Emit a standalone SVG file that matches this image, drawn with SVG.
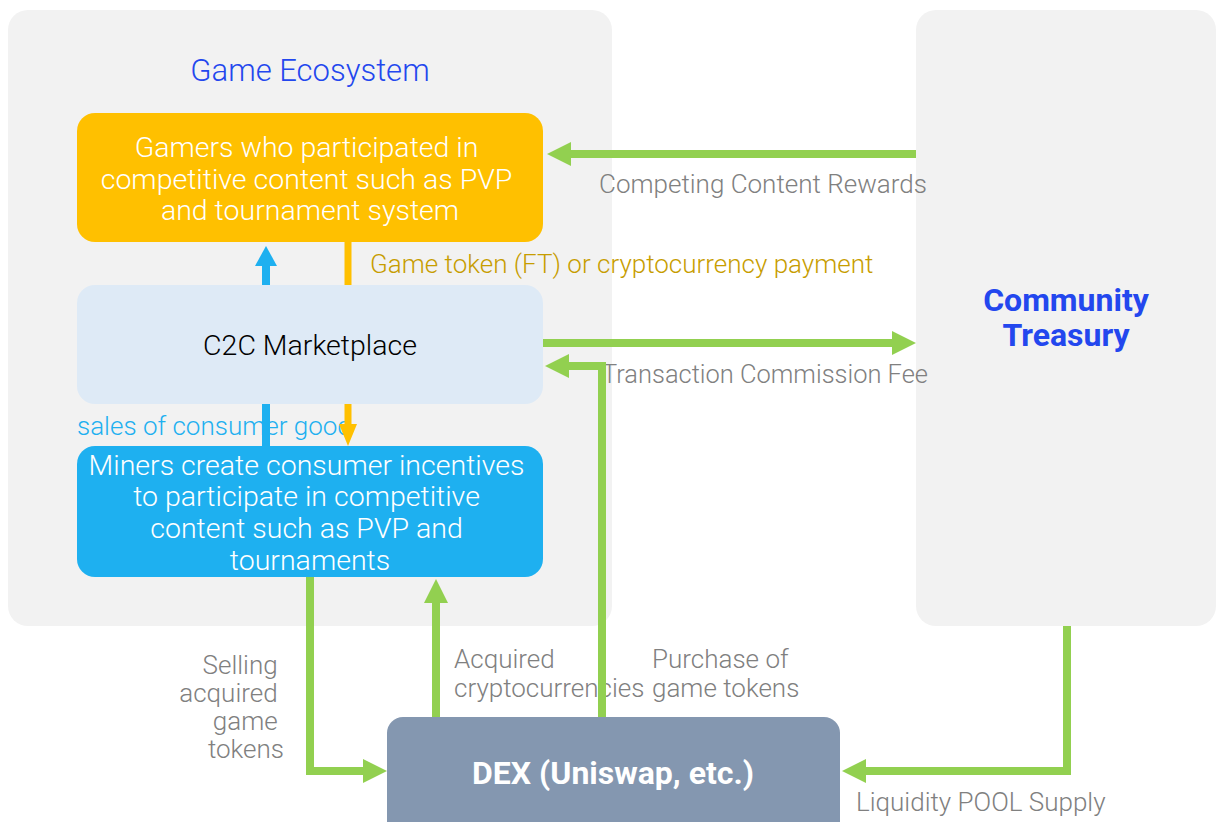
<svg xmlns="http://www.w3.org/2000/svg" width="1220" height="822" viewBox="0 0 1220 822">
  <style>
    .panel { fill: #f2f2f2; }
    .t { font-family: Roboto, "Liberation Sans", sans-serif; font-weight: 300; }
    .node-text { font-size: 28.5px; fill: #ffffff; text-anchor: middle; }
    .lbl { font-size: 26px; fill: #808080; }
    .title { font-size: 31px; fill: #2347ee; text-anchor: middle; }
    .green { fill: none; stroke: #92d050; stroke-width: 8; }
  </style>
  <defs>
    <marker id="head-green" viewBox="0 0 24 24" refX="2" refY="12" markerWidth="24" markerHeight="24" markerUnits="userSpaceOnUse" orient="auto">
      <path d="M0,0 L24,12 L0,24 Z" fill="#92d050"/>
    </marker>
    <marker id="head-blue" viewBox="0 0 20 22" refX="2" refY="11" markerWidth="20" markerHeight="22" markerUnits="userSpaceOnUse" orient="auto">
      <path d="M0,0 L20,11 L0,22 Z" fill="#1eb0f0"/>
    </marker>
    <marker id="head-orange" viewBox="0 0 22 18" refX="2" refY="9" markerWidth="22" markerHeight="18" markerUnits="userSpaceOnUse" orient="auto">
      <path d="M0,0 L22,9 L0,18 Z" fill="#ffc000"/>
    </marker>
  </defs>

  <rect width="1220" height="822" fill="#ffffff"/>

  <!-- Game Ecosystem container -->
  <g id="game-ecosystem">
    <rect class="panel" x="8" y="10" width="604" height="616" rx="20"/>
    <text class="t title" x="310" y="81">Game Ecosystem</text>
  </g>

  <g id="community-treasury">
    <rect class="panel" x="916" y="10" width="300" height="616" rx="20"/>
    <text class="t title" x="1066" y="311" style="font-size:32px;font-weight:bold">Community</text>
    <text class="t title" x="1066" y="346" style="font-size:32px;font-weight:bold">Treasury</text>
  </g>

  <!-- Edge labels -->
  <g id="labels" class="t">
    <text class="lbl" x="599" y="193">Competing Content Rewards</text>
    <text class="lbl" x="370" y="273" style="fill:#c79d00">Game token (FT) or cryptocurrency payment</text>
    <text class="lbl" x="602" y="383" textLength="326" lengthAdjust="spacingAndGlyphs">Transaction Commission Fee</text>
    <text class="lbl" x="77" y="435" style="fill:#1eb0f0">sales of consumer good</text>
    <text class="lbl" text-anchor="end">
      <tspan x="284" y="674">Selling</tspan>
      <tspan x="284" y="702">acquired</tspan>
      <tspan x="284" y="730">game</tspan>
      <tspan x="284" y="758">tokens</tspan>
    </text>
    <text class="lbl">
      <tspan x="454" y="668">Acquired</tspan>
      <tspan x="454" y="697">cryptocurrencies</tspan>
    </text>
    <text class="lbl">
      <tspan x="652" y="668">Purchase of</tspan>
      <tspan x="652" y="697">game tokens</tspan>
    </text>
    <text class="lbl" x="856" y="811">Liquidity POOL Supply</text>
  </g>

  <!-- Connectors -->
  <g id="connectors">
    <!-- rewards: treasury -> gamers -->
    <path class="green" d="M916,154 L569,154" marker-end="url(#head-green)"/>
    <!-- consumer goods: miners -> gamers -->
    <path d="M266,446 L266,264" fill="none" stroke="#1eb0f0" stroke-width="8" marker-end="url(#head-blue)"/>
    <!-- payment: gamers -> miners -->
    <path d="M348,242 L348,426" fill="none" stroke="#ffc000" stroke-width="7" marker-end="url(#head-orange)"/>
    <!-- commission fee: marketplace -> treasury -->
    <path class="green" d="M543,343 L894,343" marker-end="url(#head-green)"/>
    <!-- game token purchase: DEX -> marketplace -->
    <path class="green" d="M602,717 L602,366 L567,366" marker-end="url(#head-green)"/>
    <!-- selling tokens: miners -> DEX -->
    <path class="green" d="M310,577 L310,771 L365,771" marker-end="url(#head-green)"/>
    <!-- acquired crypto: DEX -> miners -->
    <path class="green" d="M436,717 L436,601" marker-end="url(#head-green)"/>
    <!-- liquidity: treasury -> DEX -->
    <path class="green" d="M1067,626 L1067,771 L864,771" marker-end="url(#head-green)"/>
  </g>

  <!-- Nodes -->
  <g id="gamers">
    <rect x="77" y="113" width="466" height="129" rx="18" fill="#ffc000"/>
    <text class="t node-text">
      <tspan x="310" y="157">Gamers who participated in</tspan>
      <tspan x="310" y="189">competitive content such as PVP</tspan>
      <tspan x="310" y="220">and tournament system</tspan>
    </text>
  </g>

  <g id="c2c-marketplace">
    <rect x="77" y="285" width="466" height="119" rx="18" fill="#deeaf6"/>
    <text class="t node-text" x="310" y="355" style="fill:#000000">C2C Marketplace</text>
  </g>

  <g id="miners">
    <rect x="77" y="446" width="466" height="131" rx="18" fill="#1eb0f0"/>
    <text class="t node-text">
      <tspan x="310" y="475">Miners create consumer incentives</tspan>
      <tspan x="310" y="506">to participate in competitive</tspan>
      <tspan x="310" y="538">content such as PVP and</tspan>
      <tspan x="310" y="570">tournaments</tspan>
    </text>
  </g>

  <g id="dex">
    <rect x="387" y="717" width="453" height="130" rx="16" fill="#8497b0"/>
    <text class="t" x="613" y="784" font-size="32" fill="#ffffff" text-anchor="middle" style="font-weight:bold">DEX (Uniswap, etc.)</text>
  </g>
</svg>
